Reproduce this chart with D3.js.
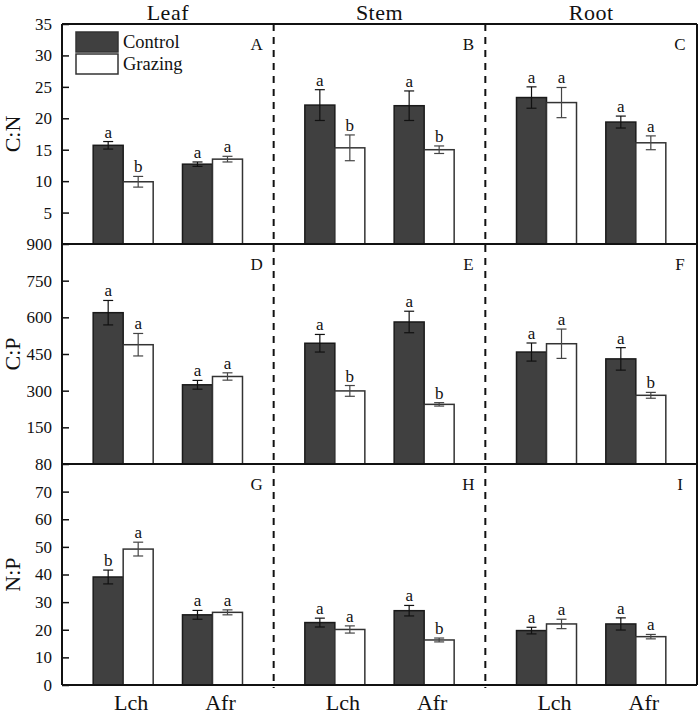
<!DOCTYPE html>
<html>
<head>
<meta charset="utf-8">
<script src="https://cdn.jsdelivr.net/npm/d3@7"></script>
<style>
  html, body { margin: 0; padding: 0; background: #fff; }
  svg { display: block; }
  text { font-family: "Liberation Serif", "Times New Roman", serif; fill: #111; }
</style>
</head>
<body>
<svg id="chart" width="700" height="715"></svg>
<script>
// ---------- data ----------
const organs = ["Leaf", "Stem", "Root"];
const species = ["Lch", "Afr"];
const treatments = ["Control", "Grazing"];
const panelLetters = [["A", "B", "C"], ["D", "E", "F"], ["G", "H", "I"]];
const variables = ["C:N", "C:P", "N:P"];

// order: Leaf(Lch C, Lch G, Afr C, Afr G), Stem(...), Root(...)
const cnMeans = [15.7, 9.9, 12.7, 13.5, 22.1, 15.3, 22.0, 15.0, 23.3, 22.5, 19.4, 16.1];
const cnErrs  = [0.6, 0.85, 0.35, 0.45, 2.45, 2.05, 2.35, 0.6, 1.7, 2.4, 0.95, 1.1];
const cnSig   = ["a", "b", "a", "a", "a", "b", "a", "b", "a", "a", "a", "a"];

const cpMeans = [619, 488, 324, 358, 494, 299, 581, 244, 458, 492, 430, 281];
const cpErrs  = [50, 46, 18, 15, 36, 22, 44, 7, 37, 60, 46, 12];
const cpSig   = ["a", "a", "a", "a", "a", "b", "a", "b", "a", "a", "a", "b"];

const npMeans = [39.1, 49.2, 25.4, 26.3, 22.6, 20.1, 26.9, 16.3, 19.7, 22.1, 22.1, 17.5];
const npErrs  = [2.5, 2.5, 1.6, 0.9, 1.6, 1.3, 1.9, 0.7, 1.2, 1.7, 2.2, 0.8];
const npSig   = ["b", "a", "a", "a", "a", "a", "a", "b", "a", "a", "a", "a"];

const cnTicks = [5, 10, 15, 20, 25, 30, 35];
const cpTicks = [150, 300, 450, 600, 750, 900];
const npTicks = [0, 10, 20, 30, 40, 50, 60, 70, 80];

const cnDomain = [0, 35];
const cpDomain = [0, 900];
const npDomain = [0, 80];

// ---------- build rows ----------
function rows(means, errs, sig) {
  const out = [];
  let i = 0;
  organs.forEach(o => species.forEach(s => treatments.forEach(t => {
    out.push({ organ: o, species: s, treatment: t, mean: means[i], err: errs[i], sig: sig[i] });
    i++;
  })));
  return out;
}
const panels = [
  { name: variables[0], data: rows(cnMeans, cnErrs, cnSig), domain: cnDomain, ticks: cnTicks, y0: 24, y1: 244 },
  { name: variables[1], data: rows(cpMeans, cpErrs, cpSig), domain: cpDomain, ticks: cpTicks, y0: 244, y1: 464 },
  { name: variables[2], data: rows(npMeans, npErrs, npSig), domain: npDomain, ticks: npTicks, y0: 464, y1: 685 }
];

// ---------- layout ----------
const plotL = 62, plotR = 697, plotT = 24, plotB = 685;
const svg = d3.select("#chart");

const xOrgan = d3.scaleBand().domain(organs).range([plotL, plotR]).padding(0);
const xSpecies = d3.scalePoint().domain(species).range([0, xOrgan.bandwidth()]).padding(0.685);
const xTreat = d3.scaleBand().domain(treatments).range([-30, 30]).padding(0);

const fillC = "#404040";

panels.forEach((p, pi) => {
  const y = d3.scaleLinear().domain(p.domain).range([p.y1, p.y0]);
  const g = svg.append("g");

  // bars
  g.selectAll("rect.bar").data(p.data).join("rect")
    .attr("class", "bar")
    .attr("x", d => xOrgan(d.organ) + xSpecies(d.species) + xTreat(d.treatment))
    .attr("y", d => y(d.mean))
    .attr("width", xTreat.bandwidth())
    .attr("height", d => y(0) - y(d.mean))
    .attr("fill", d => d.treatment === "Control" ? fillC : "#ffffff")
    .attr("stroke", d => d.treatment === "Control" ? "#1a1a1a" : "#333")
    .attr("stroke-width", 1.5);

  // error bars
  const eb = g.selectAll("g.eb").data(p.data).join("g").attr("class", "eb")
    .attr("transform", d => `translate(${xOrgan(d.organ) + xSpecies(d.species) + xTreat(d.treatment) + xTreat.bandwidth() / 2},0)`)
    .attr("stroke", d => d.treatment === "Control" ? "#111" : "#444")
    .attr("stroke-width", 1.2);
  eb.append("line").attr("x1", 0).attr("x2", 0).attr("y1", d => y(d.mean - d.err)).attr("y2", d => y(d.mean + d.err));
  eb.append("line").attr("x1", -5).attr("x2", 5).attr("y1", d => y(d.mean + d.err)).attr("y2", d => y(d.mean + d.err));
  eb.append("line").attr("x1", -5).attr("x2", 5).attr("y1", d => y(d.mean - d.err)).attr("y2", d => y(d.mean - d.err));

  // significance letters
  g.selectAll("text.sig").data(p.data).join("text")
    .attr("class", "sig")
    .attr("x", d => xOrgan(d.organ) + xSpecies(d.species) + xTreat(d.treatment) + xTreat.bandwidth() / 2)
    .attr("y", d => y(d.mean + d.err) - 4)
    .attr("text-anchor", "middle")
    .attr("font-size", 17)
    .text(d => d.sig);

  // y axis
  const axis = d3.axisLeft(y).tickValues(p.ticks).tickSize(-7).tickPadding(10).tickFormat(d3.format("d"));
  const ag = svg.append("g").attr("transform", `translate(${plotL},0)`).call(axis);
  ag.select(".domain").remove();
  ag.selectAll(".tick line").attr("stroke", "#111").attr("stroke-width", 1.5);
  ag.selectAll(".tick text").attr("font-size", 17).attr("font-family", "Liberation Serif, serif").attr("fill", "#111");

  // y axis title
  svg.append("text")
    .attr("transform", `translate(20,${(p.y0 + p.y1) / 2}) rotate(-90)`)
    .attr("text-anchor", "middle")
    .attr("font-size", 22)
    .text(p.name);

  // panel letters
  organs.forEach((o, oi) => {
    svg.append("text")
      .attr("x", xOrgan(o) + xOrgan.bandwidth() - 17)
      .attr("y", p.y0 + 26)
      .attr("text-anchor", "middle")
      .attr("font-size", 17)
      .text(panelLetters[pi][oi]);
  });

  // separator line at panel bottom
  svg.append("line")
    .attr("x1", plotL).attr("x2", plotR)
    .attr("y1", p.y1).attr("y2", p.y1)
    .attr("stroke", "#111").attr("stroke-width", 2);
});

// frame: left axis, top, right
svg.append("line").attr("x1", plotL).attr("x2", plotL).attr("y1", plotT).attr("y2", plotB).attr("stroke", "#111").attr("stroke-width", 2);
svg.append("line").attr("x1", plotL).attr("x2", plotR).attr("y1", plotT).attr("y2", plotT).attr("stroke", "#111").attr("stroke-width", 2);
svg.append("line").attr("x1", plotR).attr("x2", plotR).attr("y1", plotT).attr("y2", plotB).attr("stroke", "#111").attr("stroke-width", 2);

// dashed dividers between organs
organs.slice(1).forEach(o => {
  svg.append("line")
    .attr("x1", xOrgan(o)).attr("x2", xOrgan(o))
    .attr("y1", plotT).attr("y2", plotB + 3)
    .attr("stroke", "#111").attr("stroke-width", 2)
    .attr("stroke-dasharray", "7,6");
});

// organ titles
organs.forEach(o => {
  svg.append("text")
    .attr("x", xOrgan(o) + xOrgan.bandwidth() / 2)
    .attr("y", 20)
    .attr("text-anchor", "middle")
    .attr("font-size", 22)
    .attr("letter-spacing", 0.5)
    .text(o);
});

// species labels
organs.forEach(o => species.forEach(s => {
  svg.append("text")
    .attr("x", xOrgan(o) + xSpecies(s) + 8)
    .attr("y", 710)
    .attr("text-anchor", "middle")
    .attr("font-size", 22)
    .text(s);
}));

// legend
const legend = svg.append("g").attr("transform", "translate(76,32)");
treatments.forEach((t, i) => {
  legend.append("rect")
    .attr("x", 0).attr("y", i * 22)
    .attr("width", 42).attr("height", 20)
    .attr("fill", t === "Control" ? fillC : "#fff")
    .attr("stroke", "#333").attr("stroke-width", 1.5);
  legend.append("text")
    .attr("x", 47).attr("y", i * 22 + 16)
    .attr("font-size", 18.5)
    .text(t);
});
</script>
</body>
</html>
